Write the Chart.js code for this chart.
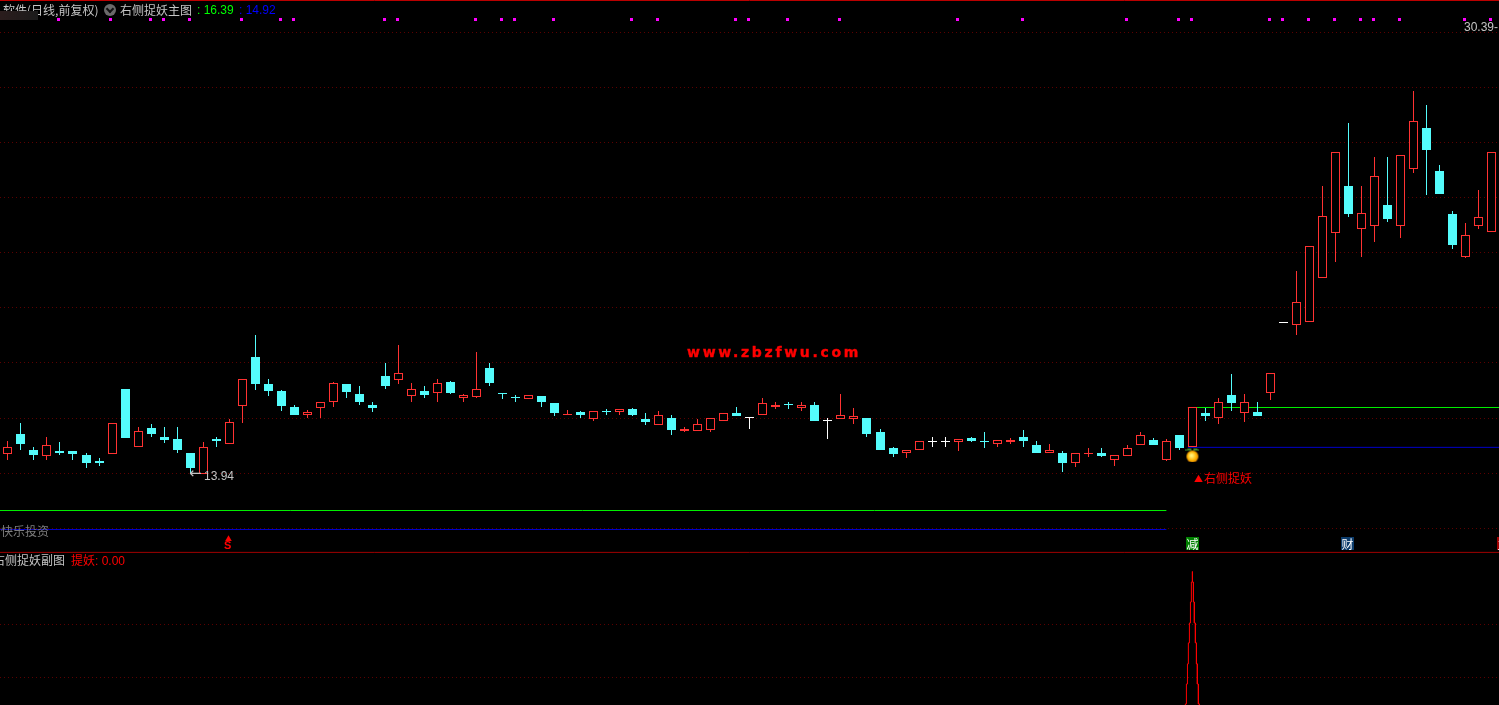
<!DOCTYPE html>
<html>
<head>
<meta charset="utf-8">
<title>右侧捉妖</title>
<script src="https://cdn.jsdelivr.net/npm/chart.js@4/dist/chart.umd.js"></script>
<style>
  html, body { margin:0; padding:0; background:#000; overflow:hidden; }
  #wrap { position:relative; width:1499px; height:705px; overflow:hidden; }
  #kline { position:absolute; left:0; top:0; }
  .t { position:absolute; white-space:nowrap; font:12px/14px "Noto Sans CJK SC", sans-serif; color:#c4c4c4; }
  .num { font-family:"Liberation Sans", sans-serif; }
  .red { color:#ff0000; }
  .box { position:absolute; top:537px; width:13px; height:13px; color:#fff; text-align:center; font:12px/13px "Noto Sans CJK SC", sans-serif; }
  #blur { position:absolute; left:0; top:11px; width:38px; height:9px; background:linear-gradient(90deg,#2b1d1d,#1b1b1b); }
  #knob { position:absolute; left:104px; top:4px; width:12px; height:12px; border-radius:50%; background:#6a6a6a; }
  #knob:after { content:""; position:absolute; left:3px; top:2px; width:4px; height:4px; border:solid #111; border-width:0 2px 2px 0; transform:rotate(45deg); }
  #site { position:absolute; left:687px; top:343px; white-space:nowrap; font:bold 14px/18px "DejaVu Sans", sans-serif; letter-spacing:2.7px; color:#ff0000; -webkit-text-stroke:0.4px #ff0000; }
</style>
</head>
<body>
<div id="wrap">
  <canvas id="kline" width="1499" height="705"></canvas>

  <div class="t" style="left:3px;top:3px">软件(日线,前复权)</div>
  <div id="blur"></div>
  <div id="knob"></div>
  <div class="t" style="left:120px;top:3px">右侧捉妖主图</div>
  <div class="t num" style="left:197px;top:3px;color:#00ff00">: 16.39</div>
  <div class="t num" style="left:239px;top:3px;color:#0000ff">: 14.92</div>
  <div class="t num" style="left:1464px;top:20px">30.39-</div>
  <div class="t" style="left:189px;top:466px;font:15px/14px 'DejaVu Sans',sans-serif">←</div>
  <div class="t num" style="left:204px;top:469px">13.94</div>
  <div id="site">www.zbzfwu.com</div>
  <div class="t red" style="left:1194px;top:472px;font-size:9px">▲</div>
  <div class="t red" style="left:1204px;top:471px">右侧捉妖</div>
  <div class="t" style="left:1px;top:524px;color:#7c7c7c">快乐投资</div>
  <div class="t red" style="left:225px;top:534px;font-size:7px;line-height:8px">▲</div>
  <div class="t red num" style="left:224px;top:539px;font-weight:bold;font-size:11px;line-height:12px">S</div>
  <div class="box" style="left:1186px;background:#008000">减</div>
  <div class="box" style="left:1341px;background:#0c3c6c">财</div>
  <div class="box" style="left:1497px;background:#a00000">主</div>
  <div class="t" style="left:-7px;top:553px">右侧捉妖副图</div>
  <div class="t red" style="left:71px;top:553px">提妖<span class="num">: 0.00</span></div>
</div>

<script>
// K线数据 (index 0 = leftmost candle)
const opens = [
  14.66,15.43,14.84,14.59,14.77,14.77,14.62,14.40,14.66,17.06,
  14.92,15.62,15.32,15.21,14.70,13.94,15.21,15.03,16.43,18.27,
  17.24,16.98,16.39,16.13,16.36,16.58,17.24,16.87,16.50,17.54,
  17.39,16.80,16.98,16.91,17.32,16.73,16.76,17.83,16.91,16.74,
  16.69,16.80,16.54,16.10,16.21,15.95,16.25,16.21,16.32,15.95,
  15.73,16.02,15.51,15.51,15.55,15.91,16.17,15.99,16.13,16.39,
  16.50,16.36,16.50,15.91,15.95,15.95,15.99,15.47,14.88,14.73,
  14.84,15.10,15.10,15.10,15.25,15.14,15.03,15.10,15.29,14.99,
  14.73,14.70,14.33,14.66,14.70,14.47,14.59,14.99,15.18,14.44,
  15.36,14.95,16.17,16.02,16.84,16.17,16.21,16.91,19.49,19.45,
  19.53,21.15,22.81,24.54,22.99,23.07,23.84,23.07,25.17,26.68,
  25.10,23.51,21.93,23.10,22.88
];
const closes = [
  14.92,15.03,14.62,14.99,14.70,14.66,14.33,14.33,15.80,15.25,
  15.51,15.40,15.18,14.81,14.14,14.95,15.14,15.84,17.43,17.24,
  16.98,16.43,16.13,16.21,16.61,17.28,16.95,16.61,16.36,17.17,
  17.65,17.06,16.84,17.28,16.91,16.84,17.09,17.28,16.90,16.73,
  16.84,16.58,16.17,16.11,16.10,16.25,16.21,16.32,16.13,15.84,
  16.13,15.55,15.58,15.77,15.99,16.17,16.06,15.99,16.54,16.50,
  16.47,16.47,15.91,15.91,16.13,16.06,15.43,14.84,14.66,14.84,
  15.14,15.10,15.10,15.21,15.14,15.13,15.18,15.18,15.14,14.70,
  14.81,14.36,14.70,14.73,14.59,14.62,14.88,15.36,14.99,15.14,
  14.88,16.39,16.06,16.58,16.54,16.58,16.06,17.68,19.49,20.27,
  22.33,23.47,25.83,23.51,23.58,24.91,23.33,25.69,26.94,25.87,
  24.25,22.37,22.74,23.40,25.80
];
const highs = [
  15.14,15.80,14.95,15.32,15.10,14.77,14.70,14.51,15.80,17.06,
  15.66,15.77,15.66,15.66,14.73,15.10,15.29,15.95,17.43,19.05,
  17.43,17.02,16.47,16.28,16.61,17.32,17.24,17.20,16.58,18.02,
  18.68,17.28,17.17,17.43,17.35,16.87,18.42,18.02,16.91,16.84,
  16.84,16.80,16.54,16.28,16.25,16.25,16.32,16.32,16.36,16.17,
  16.25,16.10,15.66,15.95,15.99,16.17,16.39,15.99,16.73,16.58,
  16.61,16.58,16.61,16.02,16.87,16.36,15.99,15.58,14.95,14.84,
  15.14,15.29,15.29,15.21,15.32,15.47,15.18,15.25,15.55,15.14,
  15.03,14.77,14.70,14.88,14.88,14.62,14.99,15.47,15.25,15.21,
  15.36,16.39,16.36,16.73,17.61,16.87,16.58,17.68,19.49,21.41,
  22.33,24.54,25.83,26.87,24.54,25.61,25.61,25.69,28.08,27.53,
  25.32,23.62,23.18,24.40,25.80
];
const lows = [
  14.44,14.81,14.47,14.47,14.62,14.47,14.14,14.22,14.66,15.25,
  14.92,15.29,15.07,14.73,13.94,13.94,14.92,15.03,15.80,17.02,
  16.80,16.25,16.10,15.99,16.02,16.39,16.73,16.50,16.21,17.09,
  17.24,16.58,16.73,16.61,16.87,16.58,16.73,17.17,16.69,16.58,
  16.69,16.39,16.06,16.10,15.99,15.88,16.13,16.13,16.06,15.73,
  15.73,15.36,15.47,15.51,15.47,15.91,16.06,15.58,16.13,16.32,
  16.32,16.25,15.91,15.21,15.95,15.77,15.29,14.81,14.55,14.51,
  14.84,14.95,14.92,14.77,15.10,14.88,14.95,15.03,14.95,14.70,
  14.73,14.00,14.18,14.55,14.55,14.22,14.59,14.99,14.99,14.40,
  14.81,14.95,15.88,15.77,16.25,15.84,16.06,16.65,19.49,19.05,
  19.53,21.15,21.74,23.40,21.93,22.48,23.22,22.63,25.02,24.21,
  24.25,22.22,21.89,22.96,22.88
];

// 主图指标线, null = gap
const stairX = [-1, 89, 90, 90.65, 116];
const greenLine = [12.59, 12.59, null, 16.39, 16.39];
const blueLine = [11.89, 11.89, null, 14.92, 14.92];

// 顶部紫色信号 + 买点图标
const signalBars = [4,8,11,12,14,18,21,22,29,30,36,38,39,42,48,50,56,57,60,64,73,78,86,90,91,97,98,100,102,104,105,107,112,114];
const signalLow = 30.64;
const signalHigh = 30.75;
const coinX = [91];
const coinY = [14.64];

// 边框线 / 网格
const frameX = [-1, 116];
const topLine = [31.40, 31.40];
const panelLine = [1.09, 1.09];
const mainGrid = [30.22, 28.19, 26.16, 24.13, 22.11, 20.08, 18.05, 15.98, 13.96, 11.93];
const subGrid = [0.75, 0.5];

// 副图尖峰
const spikeX = [90.46,90.46,90.54,90.54,90.62,90.62,90.69,90.69,90.77,90.77,90.85,90.85,90.92,90.92,91,91,91,91.08,91.08,91.15,91.15,91.23,91.23,91.31,91.31,91.38,91.38,91.46,91.46,91.54,91.54];
const spikeY = [0.37,0.375,0.375,0.469,0.469,0.564,0.564,0.663,0.663,0.757,0.757,0.856,0.856,0.95,0.95,1,0.95,0.95,0.856,0.856,0.757,0.757,0.663,0.663,0.564,0.564,0.469,0.469,0.375,0.375,0.37];

const RED = '#ff3232';
const CYAN = '#54fcfc';
const DOT = '#5c0000';

const lineColors = closes.map((c, i) => c > opens[i] ? RED : c < opens[i] ? CYAN : '#ffffff');
const bodyFills = closes.map((c, i) => c > opens[i] ? '#000000' : lineColors[i]);

// 让K线落在整像素上, 不然竖线会发虚
const BarEl = Chart.elements.BarElement;
const drawBar = BarEl.prototype.draw;
BarEl.prototype.draw = function (ctx) {
  this.x = Math.floor(this.x) + 0.5;
  this.y = Math.round(this.y);
  this.base = Math.round(this.base);
  if (this.y === this.base) this.base = this.y + 1;
  drawBar.call(this, ctx);
};

// 金币图标
function makeCoin() {
  const c = document.createElement('canvas');
  c.width = 14;
  c.height = 15;
  const g = c.getContext('2d');
  const orange = g.createRadialGradient(6, 8, 1, 7, 9, 7);
  orange.addColorStop(0, '#fff27a');
  orange.addColorStop(0.55, '#ffb400');
  orange.addColorStop(1, '#c86a00');
  g.fillStyle = orange;
  g.beginPath();
  g.arc(7, 9, 6, 0, Math.PI * 2);
  g.fill();
  g.fillStyle = '#3f8f2a';
  g.fillRect(2, 1, 4, 2);
  g.fillRect(8, 1, 4, 2);
  g.fillRect(0, 2, 3, 1);
  g.fillRect(11, 2, 3, 1);
  return c;
}

const barBase = { grouped:false, inflateAmount:0, borderSkipped:false, minBarLength:1, yAxisID:'y' };
const lineBase = { type:'line', pointRadius:0, borderWidth:1, tension:0, spanGaps:false, fill:false };

new Chart(document.getElementById('kline'), {
  type: 'bar',
  data: {
    datasets: [
      {
        ...lineBase, label:'提妖', order:1, yAxisID:'y1', borderColor:'#ff0000',
        data: spikeX.map((x, i) => ({ x, y: spikeY[i] }))
      },
      {
        ...lineBase, label:'coin', order:2, yAxisID:'y', showLine:false,
        pointRadius:7, pointStyle:makeCoin(),
        data: coinX.map((x, i) => ({ x, y: coinY[i] }))
      },
      {
        ...barBase, label:'body', order:3, barThickness:9, borderWidth:1,
        borderColor: lineColors, backgroundColor: bodyFills,
        data: opens.map((o, i) => ({ x:i, y:[o, closes[i]] }))
      },
      {
        ...barBase, label:'wick', order:4, barThickness:1, borderWidth:0,
        backgroundColor: lineColors,
        data: highs.map((h, i) => ({ x:i, y:[lows[i], h] }))
      },
      {
        ...barBase, label:'signal', order:5, barThickness:3, borderWidth:0,
        backgroundColor:'#ff00ff',
        data: signalBars.map(i => ({ x:i - 0.08, y:[signalLow, signalHigh] }))
      },
      {
        ...lineBase, label:'16.39', order:6, yAxisID:'y', borderColor:'#00f000',
        data: stairX.map((x, i) => ({ x, y: greenLine[i] }))
      },
      {
        ...lineBase, label:'14.92', order:7, yAxisID:'y', borderColor:'#0000c8',
        data: stairX.map((x, i) => ({ x, y: blueLine[i] }))
      },
      {
        ...lineBase, label:'top', order:8, yAxisID:'y', borderColor:'#c00000',
        data: frameX.map((x, i) => ({ x, y: topLine[i] }))
      },
      {
        ...lineBase, label:'panel', order:8, yAxisID:'y1', borderColor:'#a00000',
        data: frameX.map((x, i) => ({ x, y: panelLine[i] }))
      }
    ]
  },
  options: {
    responsive: false,
    animation: false,
    events: [],
    layout: { padding: 0, autoPadding: false },
    plugins: { legend: { display:false }, tooltip: { enabled:false }, title: { display:false } },
    scales: {
      x: { type:'linear', offset:false, min:-0.6077, max:114.5547, display:false, grid: { display:false } },
      y: {
        min: 5.418, max: 31.418,
        afterBuildTicks: axis => { axis.ticks = mainGrid.map(value => ({ value })); },
        ticks: { display:false },
        grid: { color:DOT, drawTicks:false, lineWidth:1 },
        border: { display:false, dash:[1, 3] }
      },
      y1: {
        min: 0.370, max: 3.696,
        afterBuildTicks: axis => { axis.ticks = subGrid.map(value => ({ value })); },
        ticks: { display:false },
        grid: { color:DOT, drawTicks:false, lineWidth:1 },
        border: { display:false, dash:[1, 3] }
      }
    }
  }
});
</script>
</body>
</html>
